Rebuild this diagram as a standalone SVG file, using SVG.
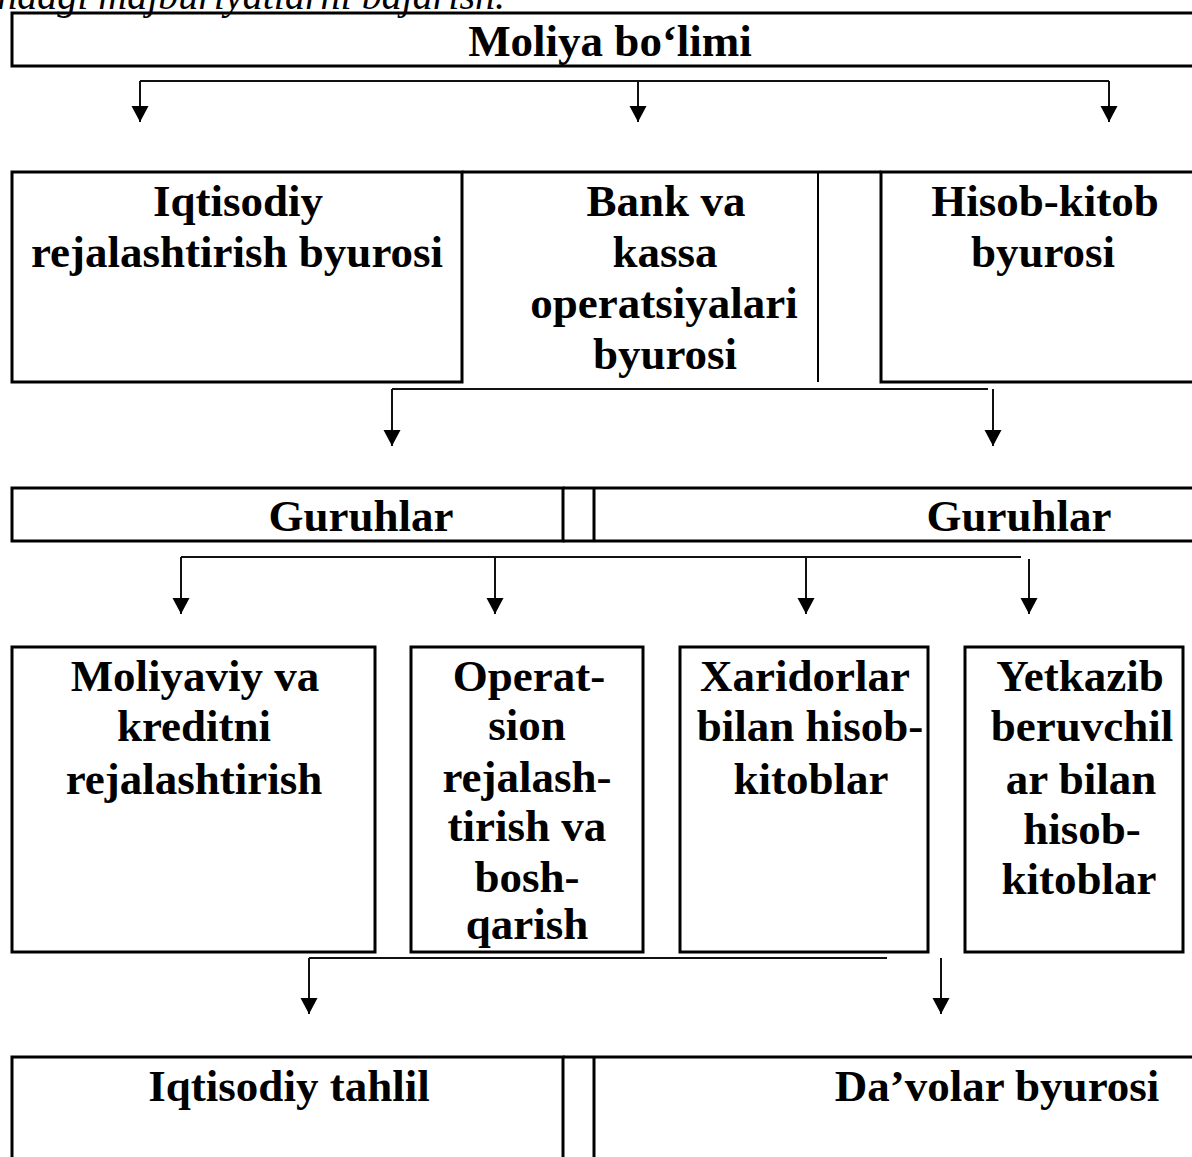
<svg xmlns="http://www.w3.org/2000/svg" width="1192" height="1157" viewBox="0 0 1192 1157">
  <style>
    .box { fill: none; stroke: #000; stroke-width: 3; }
    .sep { fill: none; stroke: #000; stroke-width: 2; }
    .lbl { font-family: "Liberation Serif", "Times New Roman", serif; font-weight: bold; font-size: 45px; fill: #000; text-anchor: middle; }
    .body { font-family: "Liberation Serif", "Times New Roman", serif; font-style: italic; font-size: 40px; fill: #000; }
    .wire { fill: none; stroke: #111; stroke-width: 2; }
    .drop { fill: none; stroke: #111; stroke-width: 2; marker-end: url(#arrow); }
  </style>
  <defs>
    <marker id="arrow" markerUnits="userSpaceOnUse" markerWidth="18" markerHeight="18" refX="16" refY="8.5" orient="auto">
      <path d="M0,0 L16,8.5 L0,17 Z" fill="#000"/>
    </marker>
  </defs>

  <rect width="1192" height="1157" fill="#fff"/>

  <!-- tail of the preceding paragraph -->
  <text class="body" x="505" y="9" text-anchor="end">ndagi majburiyatlarni bajarish.</text>

  <!-- level 1 -->
  <g id="moliya-bolimi">
    <path class="box" d="M1196,13 H12 V66 H1196"/>
    <text class="lbl" x="610" y="56">Moliya bo‘limi</text>
  </g>

  <!-- level 2 -->
  <g id="iqtisodiy-rejalashtirish">
    <rect class="box" x="12" y="172" width="450" height="210"/>
    <text class="lbl" x="238" y="216">Iqtisodiy</text>
    <text class="lbl" x="237" y="267">rejalashtirish byurosi</text>
  </g>
  <g id="bank-kassa">
    <path class="box" d="M462,172 H881"/>
    <path class="sep" d="M818,172 V382"/>
    <text class="lbl" x="666" y="216">Bank va</text>
    <text class="lbl" x="665" y="267">kassa</text>
    <text class="lbl" x="664" y="318">operatsiyalari</text>
    <text class="lbl" x="665" y="369">byurosi</text>
  </g>
  <g id="hisob-kitob">
    <path class="box" d="M1196,172 H881 V382 H1196"/>
    <text class="lbl" x="1045" y="216">Hisob-kitob</text>
    <text class="lbl" x="1043" y="267">byurosi</text>
  </g>

  <!-- level 3 -->
  <g id="guruhlar-1">
    <path class="box" d="M563,488 H12 V541 H563 Z"/>
    <text class="lbl" x="361" y="531">Guruhlar</text>
  </g>
  <g id="guruhlar-2">
    <path class="box" d="M1196,488 H563 M594,488 V541 M563,541 H1196"/>
    <text class="lbl" x="1019" y="531">Guruhlar</text>
  </g>

  <!-- level 4 -->
  <g id="moliyaviy-kredit">
    <rect class="box" x="12" y="647" width="363" height="305"/>
    <text class="lbl" x="195" y="691">Moliyaviy va</text>
    <text class="lbl" x="194" y="741">kreditni</text>
    <text class="lbl" x="194" y="794">rejalashtirish</text>
  </g>
  <g id="operatsion">
    <rect class="box" x="411" y="647" width="232" height="305"/>
    <text class="lbl" x="529" y="691">Operat-</text>
    <text class="lbl" x="527" y="740">sion</text>
    <text class="lbl" x="527" y="792">rejalash-</text>
    <text class="lbl" x="527" y="841">tirish va</text>
    <text class="lbl" x="527" y="892">bosh-</text>
    <text class="lbl" x="527" y="939">qarish</text>
  </g>
  <g id="xaridorlar">
    <rect class="box" x="680" y="647" width="248" height="305"/>
    <text class="lbl" x="805" y="691">Xaridorlar</text>
    <text class="lbl" x="810" y="741">bilan hisob-</text>
    <text class="lbl" x="811" y="794">kitoblar</text>
  </g>
  <g id="yetkazib-beruvchilar">
    <rect class="box" x="965" y="647" width="218" height="305"/>
    <text class="lbl" x="1080" y="691">Yetkazib</text>
    <text class="lbl" x="1082" y="741">beruvchil</text>
    <text class="lbl" x="1081" y="794">ar bilan</text>
    <text class="lbl" x="1082" y="844">hisob-</text>
    <text class="lbl" x="1079" y="894">kitoblar</text>
  </g>

  <!-- level 5 -->
  <g id="iqtisodiy-tahlil">
    <path class="box" d="M563,1160 V1057 H12 V1160"/>
    <text class="lbl" x="289" y="1101">Iqtisodiy tahlil</text>
  </g>
  <g id="davolar-byurosi">
    <path class="box" d="M1196,1057 H563 M594,1057 V1160"/>
    <text class="lbl" x="997" y="1101">Da’volar byurosi</text>
  </g>

  <!-- connectors -->
  <g id="connectors">
    <path class="wire" d="M140,81 H1109"/>
    <path class="drop" d="M140,81 V122"/>
    <path class="drop" d="M638,81 V122"/>
    <path class="drop" d="M1109,81 V122"/>

    <path class="wire" d="M392,389 H988"/>
    <path class="drop" d="M392,389 V446"/>
    <path class="drop" d="M993,389 V446"/>

    <path class="wire" d="M181,557 H1021"/>
    <path class="drop" d="M181,557 V614"/>
    <path class="drop" d="M495,557 V614"/>
    <path class="drop" d="M806,557 V614"/>
    <path class="drop" d="M1029,559 V614"/>

    <path class="wire" d="M309,958 H887"/>
    <path class="drop" d="M309,958 V1014"/>
    <path class="drop" d="M941,958 V1014"/>
  </g>
</svg>
